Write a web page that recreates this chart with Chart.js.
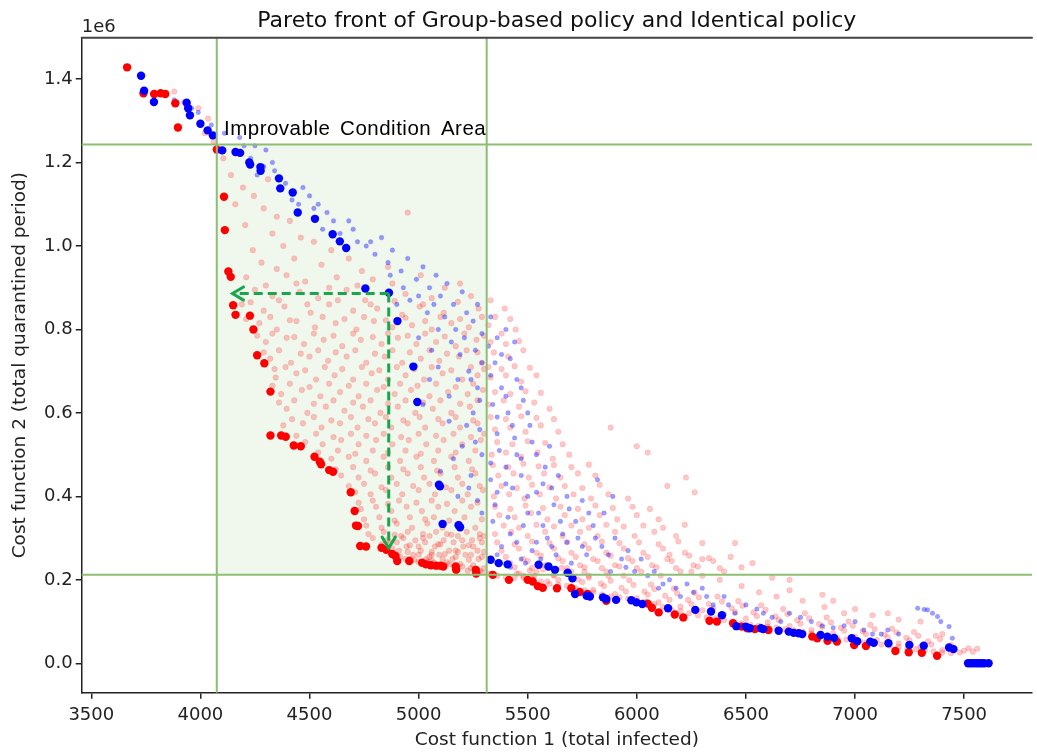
<!DOCTYPE html>
<html><head><meta charset="utf-8">
<script src="https://cdn.jsdelivr.net/npm/chart.js@4/dist/chart.umd.min.js"></script>
<style>html,body{margin:0;padding:0;background:#fff;}#c{display:block;}</style>
</head><body>
<canvas id="c" width="1037" height="753"></canvas>
<script>
// ---------- texts ----------
const TITLE = 'Pareto front of Group-based policy and Identical policy';
const X_LABEL = 'Cost function 1 (total infected)';
const Y_LABEL = 'Cost function 2 (total quarantined period)';
const AREA_LABEL = 'Improvable Condition Area';
const Y_OFFSET_TEXT = '1e6';

// ---------- axes ----------
const X_TICKS = [3500, 4000, 4500, 5000, 5500, 6000, 6500, 7000, 7500];
const Y_TICKS = [0.0, 0.2, 0.4, 0.6, 0.8, 1.0, 1.2, 1.4];   // x 1e6
const X_LIMITS = [3456, 7811];
const Y_LIMITS = [-0.0704, 1.499];                          // x 1e6
const Y_SCALE = 1e6;

// ---------- improvable area & arrows ----------
const AREA_X = [4075, 5312];
const AREA_Y = [0.2125, 1.243];          // x 1e6
const ARROW_START = [4863, 0.886];       // x, y(1e6)
const ARROW_LEFT_END_X = 4147;
const ARROW_DOWN_END_Y = 0.276;
const AREA_LABEL_POS = [4108, 1.265];

// ---------- data: [total infected, total quarantined (1e6)] ----------
const redFront = [[3664,1.428],[3739,1.366],[3788,1.364],[3818,1.366],[3839,1.364],[3885,1.342],[3897,1.284],[4075,1.231],
[4108,1.118],[4112,1.038],[4128,0.939],[4139,0.926],[4150,0.858],[4161,0.835],[4227,0.833],[4243,0.800],[4260,0.738],[4293,0.719],
[4321,0.651],[4321,0.546],[4370,0.546],[4391,0.543],[4428,0.522],[4460,0.520],[4523,0.495],[4547,0.483],[4553,0.477],[4590,0.463],
[4608,0.459],[4689,0.410],[4707,0.365],[4713,0.330],[4722,0.329],[4732,0.281],[4759,0.280],[4830,0.277],[4852,0.272],[4879,0.262],
[4894,0.257],[4902,0.245],[4957,0.245],[5016,0.241],[5034,0.237],[5056,0.235],[5080,0.234],[5100,0.234],[5113,0.232],[5170,0.232],
[5172,0.224],[5262,0.224],[5264,0.215],[5340,0.212],[5414,0.200],[5500,0.200],[5523,0.196],[5546,0.185],[5569,0.181],[5634,0.180],
[5700,0.180],[5738,0.171],[5774,0.166],[5860,0.150],[6050,0.143],[6069,0.133],[6100,0.122],[6174,0.117],[6213,0.110],[6333,0.102],
[6367,0.100],[6441,0.096],[6480,0.088],[6506,0.084],[6541,0.082],[6603,0.080],[6804,0.064],[6827,0.060],[6874,0.054],[6917,0.052],
[6996,0.044],[7050,0.0415],[7185,0.0295],[7246,0.0264],[7306,0.0254],[7376,0.018]];

const blueFront = [[3728,1.408],[3742,1.372],[3787,1.345],[3937,1.343],[3944,1.330],[3952,1.313],[4000,1.293],[4033,1.277],[4057,1.265],
[4100,1.229],[4161,1.225],[4182,1.223],[4224,1.200],[4228,1.195],[4275,1.189],[4276,1.180],[4360,1.162],[4366,1.138],[4423,1.128],
[4446,1.080],[4525,1.065],[4606,1.028],[4639,1.011],[4668,0.995],[4756,0.898],[4864,0.888],[4903,0.820],[4976,0.711],[4994,0.626],
[5093,0.428],[5098,0.424],[5110,0.334],[5183,0.331],[5190,0.326],[5330,0.248],[5367,0.240],[5408,0.237],[5550,0.236],[5595,0.232],
[5625,0.224],[5683,0.217],[5705,0.204],[5717,0.166],[5770,0.162],[5785,0.160],[5845,0.158],[5860,0.154],[5905,0.152],[5975,0.151],
[5998,0.146],[6025,0.142],[6143,0.132],[6268,0.128],[6340,0.124],[6390,0.115],[6456,0.089],[6499,0.088],[6518,0.084],[6569,0.084],
[6580,0.082],[6650,0.078],[6696,0.076],[6719,0.073],[6742,0.072],[6758,0.070],[6842,0.068],[6873,0.064],[6904,0.061],[6985,0.060],
[7010,0.053],[7070,0.052],[7086,0.049],[7153,0.048],[7249,0.044],[7315,0.042],[7431,0.038],[7451,0.034],[7518,0.0],[7530,0.0],
[7543,0.0],[7556,0.0],[7568,0.0],[7580,0.0],[7592,0.0],[7612,0.0]];

const redCloud = [[3880,1.37],[3925,1.345],[3990,1.33],[4035,1.305],[4020,1.27],[4060,1.25],
[4105,1.21],[4140,1.17],[4195,1.14],[4160,1.10],[4245,1.12],[4310,1.16],[4290,1.09],[4350,1.07],[4205,1.05],[4330,1.03],[4410,1.06],
[4460,1.02],[4240,0.99],[4380,1.00],[4520,1.01],[4600,0.99],[4430,0.97],[4280,0.96],[4680,0.97],[4555,0.955],[4740,0.94],[4950,1.08],
[4860,0.95],[4350,0.945],
[4210,0.925],[4395,0.93],[4480,0.915],[4625,0.925],[4790,0.92],[5010,0.93],[5190,0.91],
[4250,0.895],[4330,0.88],[4455,0.89],[4540,0.875],[4670,0.895],[4755,0.87],[4940,0.885],[5060,0.875],[5240,0.88],
[4190,0.86],[4290,0.845],[4385,0.855],[4505,0.84],[4590,0.86],[4700,0.845],[4810,0.85],[4925,0.835],[5005,0.855],[5115,0.84],[5275,0.85],
[4270,0.815],[4350,0.80],[4440,0.82],[4525,0.805],[4620,0.815],[4715,0.80],[4795,0.82],[4880,0.805],[4970,0.81],[5060,0.80],[5150,0.815],[5230,0.805],
[4300,0.77],[4395,0.78],[4475,0.765],[4565,0.775],[4650,0.76],[4735,0.775],[4830,0.765],[4905,0.78],[4990,0.765],[5080,0.77],[5170,0.76],[5265,0.775],
[4320,0.73],[4415,0.72],[4500,0.735],[4585,0.725],[4670,0.735],[4760,0.72],[4845,0.735],[4925,0.72],[5010,0.73],[5095,0.725],[5185,0.735],[5290,0.72],
[4345,0.685],[4440,0.695],[4530,0.68],[4615,0.69],[4700,0.68],[4785,0.695],[4860,0.68],[4940,0.69],[5025,0.68],[5110,0.695],[5200,0.68],[5270,0.69],
[4370,0.645],[4465,0.655],[4550,0.64],[4640,0.65],[4725,0.64],[4810,0.655],[4890,0.645],[4965,0.655],[5050,0.64],[5135,0.65],[5225,0.645],[5295,0.655],
[4395,0.61],[4490,0.60],[4575,0.615],[4660,0.605],[4745,0.615],[4825,0.60],[4905,0.615],[4985,0.60],[5065,0.61],[5150,0.60],[5235,0.615],
[4380,0.57],[4470,0.575],[4555,0.565],[4640,0.575],[4720,0.565],[4800,0.575],[4875,0.565],[4950,0.575],[5030,0.565],[5110,0.575],[5190,0.565],[5270,0.575],
[4480,0.53],[4560,0.525],[4645,0.535],[4725,0.525],[4805,0.535],[4880,0.525],[4955,0.535],[5035,0.525],[5115,0.535],[5200,0.525],[5285,0.535],
[4600,0.49],[4680,0.495],[4760,0.485],[4840,0.495],[4915,0.485],[4990,0.495],[5070,0.485],[5150,0.495],[5230,0.485],
[4645,0.45],[4725,0.445],[4800,0.455],[4875,0.445],[4950,0.455],[5025,0.445],[5100,0.455],[5180,0.445],[5260,0.455],
[4710,0.41],[4780,0.405],[4850,0.415],[4925,0.405],[5000,0.415],[5075,0.405],[5150,0.415],[5225,0.405],[5295,0.415],
[4735,0.37],[4805,0.375],[4875,0.365],[4945,0.375],[5015,0.365],[5090,0.375],[5165,0.365],[5240,0.375],
[4760,0.33],[4830,0.325],[4900,0.335],[4970,0.325],[5040,0.335],[5110,0.325],[5185,0.335],[5260,0.325],
[4790,0.30],[4855,0.295],[4920,0.305],[4985,0.295],[5050,0.305],[5115,0.295],[5180,0.305],[5245,0.295],[5300,0.305],
[4880,0.275],[4945,0.28],[5010,0.27],[5075,0.28],[5140,0.27],[5205,0.28],[5270,0.27],
[4915,0.255],[4975,0.26],[5035,0.25],[5095,0.26],[5155,0.25],[5215,0.26],[5275,0.25],
[5000,0.243],[5060,0.247],[5130,0.242],[5190,0.238],[5250,0.235],[5300,0.228],[5225,0.222],[5290,0.218],
[4300,0.905],[4440,0.91],[4590,0.9],[4720,0.905],[4880,0.91],[5120,0.9],
[4230,0.865],[4360,0.87],[4490,0.86],[4630,0.87],[4780,0.86],[4890,0.868],[5020,0.86],[5180,0.866],
[4210,0.825],[4320,0.83],[4410,0.822],[4560,0.83],[4660,0.825],[4750,0.83],[4850,0.822],[4940,0.828],[5030,0.82],[5100,0.83],[5190,0.825],[5290,0.83],
[4260,0.785],[4330,0.79],[4430,0.782],[4520,0.79],[4610,0.785],[4700,0.79],[4790,0.782],[4860,0.79],[4950,0.785],[5030,0.79],[5120,0.783],[5210,0.79],[5300,0.785],
[4290,0.745],[4360,0.75],[4460,0.742],[4540,0.75],[4620,0.745],[4710,0.75],[4800,0.742],[4880,0.75],[4960,0.745],[5050,0.75],[5130,0.742],[5220,0.75],[5270,0.745],
[4340,0.705],[4390,0.71],[4480,0.702],[4570,0.71],[4650,0.705],[4740,0.71],[4820,0.702],[4900,0.71],[4980,0.705],[5060,0.71],[5150,0.702],[5240,0.71],[5300,0.705],
[4330,0.665],[4410,0.67],[4500,0.662],[4590,0.67],[4680,0.665],[4760,0.67],[4840,0.662],[4915,0.67],[4995,0.665],[5080,0.67],[5170,0.662],[5250,0.67],
[4360,0.625],[4430,0.63],[4520,0.622],[4610,0.63],[4700,0.625],[4780,0.63],[4860,0.622],[4940,0.63],[5020,0.625],[5100,0.63],[5190,0.622],[5270,0.63],
[4420,0.585],[4520,0.59],[4600,0.582],[4690,0.59],[4770,0.585],[4850,0.59],[4930,0.582],[5005,0.59],[5090,0.585],[5170,0.59],[5250,0.582],
[4440,0.545],[4530,0.55],[4610,0.542],[4690,0.55],[4760,0.545],[4840,0.55],[4920,0.542],[5000,0.55],[5080,0.545],[5160,0.55],[5240,0.542],[5300,0.55],
[4540,0.505],[4630,0.51],[4710,0.502],[4790,0.51],[4860,0.505],[4940,0.51],[5010,0.502],[5090,0.51],[5170,0.505],[5260,0.51],
[4620,0.465],[4700,0.47],[4780,0.462],[4860,0.47],[4930,0.465],[5010,0.47],[5085,0.462],[5165,0.47],[5245,0.465],
[4680,0.425],[4750,0.43],[4830,0.422],[4900,0.43],[4975,0.425],[5050,0.43],[5125,0.422],[5200,0.43],[5280,0.425],
[4725,0.385],[4790,0.39],[4860,0.382],[4910,0.39],[4990,0.385],[5060,0.39],[5130,0.382],[5200,0.39],[5270,0.385],
[4750,0.345],[4820,0.35],[4890,0.342],[4960,0.35],[5030,0.345],[5070,0.35],[5140,0.342],[5210,0.35],[5290,0.345],
[4770,0.31],[4840,0.315],[4890,0.308],[4950,0.315],[5020,0.31],[5080,0.315],[5150,0.308],[5220,0.315],[5280,0.31],
[4830,0.285],[4900,0.29],[4960,0.283],[5030,0.29],[5090,0.285],[5160,0.29],[5230,0.283],[5290,0.29],
[4890,0.262],[4950,0.267],[5000,0.26],[5060,0.267],[5120,0.262],[5180,0.267],[5240,0.26],[5300,0.267],
[4960,0.25],[5050,0.255],[5110,0.25],[5170,0.255],[5230,0.248],[5290,0.255],
[5330,0.87],[5395,0.85],[5320,0.81],[5380,0.79],[5445,0.80],[5345,0.745],[5410,0.735],[5480,0.75],[5330,0.685],[5400,0.69],[5470,0.675],
[5540,0.69],[5320,0.62],[5390,0.63],[5460,0.615],[5530,0.625],[5600,0.61],[5350,0.56],[5420,0.565],[5490,0.555],[5560,0.57],[5640,0.555],
[5880,0.565],[5335,0.50],[5400,0.505],[5470,0.495],[5545,0.505],[5615,0.49],[5690,0.50],[6000,0.52],[6050,0.505],[5365,0.45],[5435,0.455],
[5505,0.445],[5575,0.455],[5650,0.445],[5730,0.455],[5810,0.45],[6225,0.445],[5345,0.40],[5415,0.405],[5485,0.395],[5555,0.405],[5630,0.395],
[5710,0.405],[5790,0.395],[5870,0.405],[5960,0.395],[6265,0.41],[5370,0.355],[5440,0.35],[5515,0.36],[5590,0.345],[5670,0.355],[5750,0.345],
[5830,0.355],[5910,0.345],[6000,0.355],[6100,0.345],[5350,0.31],[5425,0.315],[5500,0.305],[5580,0.315],[5660,0.305],[5740,0.315],[5820,0.305],
[5900,0.315],[5990,0.305],[6080,0.315],[6180,0.305],[5380,0.27],[5460,0.275],[5540,0.265],[5620,0.275],[5700,0.265],[5780,0.275],[5860,0.265],
[5940,0.275],[6030,0.265],[6120,0.275],[6220,0.265],[6450,0.288],[5420,0.24],[5500,0.245],[5580,0.235],[5660,0.245],[5740,0.235],[5820,0.245],
[5900,0.235],[5980,0.245],[6070,0.235],[6160,0.245],[6260,0.235],[6350,0.245],[5460,0.215],[5540,0.22],[5620,0.21],[5700,0.22],[5780,0.21],
[5860,0.22],[5940,0.21],[6020,0.22],[6110,0.21],[6200,0.22],[6300,0.21],[6400,0.22],[6530,0.24],[6620,0.205],[6700,0.175],[6850,0.164],
[6900,0.15],[7000,0.13],[7150,0.12],[7300,0.10],[7560,0.035],
[5350,0.83],[5420,0.825],[5330,0.77],[5400,0.765],[5460,0.772],[5320,0.71],[5380,0.705],[5440,0.712],[5510,0.708],
[5350,0.65],[5420,0.645],[5490,0.652],[5560,0.648],[5330,0.59],[5400,0.585],[5470,0.592],[5540,0.588],[5620,0.585],
[5360,0.53],[5430,0.525],[5500,0.532],[5580,0.528],[5660,0.525],[5340,0.475],[5410,0.47],[5480,0.478],[5550,0.472],[5620,0.475],[5700,0.47],[5780,0.476],
[5380,0.425],[5450,0.42],[5520,0.428],[5600,0.422],[5670,0.425],[5750,0.42],[5830,0.428],[6140,0.425],
[5350,0.375],[5420,0.37],[5490,0.378],[5570,0.372],[5650,0.375],[5730,0.37],[5810,0.378],[5890,0.372],[5980,0.375],[6060,0.37],
[5390,0.33],[5460,0.325],[5540,0.332],[5620,0.328],[5700,0.33],[5780,0.325],[5860,0.332],[5940,0.328],[6030,0.33],[6120,0.325],[6220,0.332],
[5360,0.29],[5440,0.285],[5520,0.292],[5600,0.288],[5680,0.29],[5760,0.285],[5840,0.292],[5920,0.288],[6010,0.29],[6100,0.285],[6190,0.292],[6300,0.288],
[5400,0.255],[5480,0.25],[5560,0.258],[5640,0.252],[5720,0.255],[5800,0.25],[5880,0.258],[5960,0.252],[6050,0.255],[6140,0.25],[6240,0.258],[6330,0.252],[6430,0.255],
[5440,0.23],[5520,0.228],[5600,0.232],[5680,0.228],[5760,0.23],[5840,0.228],[5920,0.232],[6000,0.228],[6090,0.23],[6180,0.228],[6280,0.232],[6380,0.228],[6480,0.23],
[5480,0.205],[5510,0.222],[5545,0.236],[5590,0.196],[5620,0.212],[5655,0.229],[5700,0.186],[5730,0.201],[5760,0.219],[5800,0.176],[5835,0.191],
[5870,0.209],[5900,0.166],[5930,0.181],[5965,0.199],[6000,0.156],[6035,0.172],[6065,0.189],[6100,0.146],[6130,0.162],[6170,0.179],[6200,0.136],
[6235,0.152],[6265,0.169],[6300,0.127],[6330,0.142],[6370,0.16],[6400,0.117],[6435,0.132],[6465,0.149],[6500,0.107],[6535,0.122],[6570,0.139],
[6600,0.098],[6635,0.112],[6670,0.13],[6700,0.089],[6735,0.103],[6770,0.12],[6800,0.08],[6835,0.094],[6870,0.11],[6900,0.072],[6935,0.085],
[6970,0.1],[7000,0.064],[7035,0.077],[7070,0.092],[7100,0.056],[7135,0.069],[7170,0.083],[7200,0.048],[7235,0.061],[7270,0.075],[7300,0.04],
[7335,0.053],[7370,0.066],[7400,0.032],[7440,0.044],[7480,0.026],[7520,0.036],
[5450,0.215],[5530,0.21],[5570,0.225],[5640,0.2],[5680,0.215],[5750,0.195],[5780,0.205],[5850,0.185],[5880,0.198],[5950,0.172],[5985,0.188],
[6050,0.165],[6080,0.178],[6150,0.152],[6185,0.168],[6250,0.142],[6285,0.158],[6350,0.132],[6390,0.148],[6450,0.123],[6485,0.138],[6550,0.113],
[6590,0.128],[6650,0.104],[6690,0.118],[6750,0.095],[6790,0.108],[6850,0.087],[6890,0.098],[6950,0.078],[6990,0.09],[7050,0.07],[7090,0.082],
[7150,0.062],[7190,0.074],[7250,0.055],[7290,0.066],[7350,0.045],[7390,0.058],[7450,0.038],[7500,0.03],[7540,0.028],
[6150,0.26],[6250,0.22],[6380,0.2],[6480,0.185],[6560,0.17],[6640,0.16],[6760,0.15],[6950,0.12],[7080,0.115],[7200,0.105],[7400,0.07],
[6300,0.25],[6700,0.2],[6860,0.135],
[4900,0.252],[4940,0.25],[4980,0.248],[5040,0.244],[5070,0.241],[5140,0.238],[5200,0.232],[5240,0.228],[5280,0.222],[5320,0.215],[5360,0.21],
[5400,0.206],[5440,0.205],[5480,0.21],[5520,0.204],[5560,0.196],[5600,0.19],[5640,0.188],[5680,0.186],[5720,0.18],[5760,0.175],[5800,0.17],
[5840,0.165],[5880,0.16],[5920,0.158],[5960,0.155],[6000,0.15],[6040,0.148],[6080,0.142],[6120,0.135],[6160,0.128],[6200,0.125],[6240,0.12],
[6280,0.115],[6320,0.11],[6360,0.108],[6400,0.104],[6440,0.1],[6480,0.096],[6520,0.092],[6560,0.09],[6600,0.088],[6640,0.085],[6680,0.082],
[6720,0.079],[6760,0.076],[6800,0.072],[6840,0.068],[6880,0.064],[6920,0.06],[6960,0.057],[7000,0.053],[7040,0.05],[7080,0.048],[7120,0.045],
[7160,0.042],[7200,0.039],[7240,0.036],[7280,0.034],[7320,0.031],[7360,0.028],[7400,0.026],[7440,0.024],
[4870,0.29],[4910,0.27],[4930,0.3],[5000,0.28],[5020,0.3],[5060,0.26],[5100,0.285],[5130,0.31],[5170,0.27],[5200,0.295],[5250,0.28],[5280,0.3]];

const blueCloud = [[3880,1.35],[3960,1.33],[3990,1.32],[4050,1.29],[4110,1.27],[4180,1.26],[4250,1.24],[4300,1.23],
[4230,1.21],[4290,1.19],[4260,1.17],[4340,1.18],[4390,1.15],[4420,1.11],[4450,1.10],[4500,1.12],[4520,1.09],[4580,1.08],[4610,1.06],
[4560,1.04],[4640,1.03],[4700,1.04],[4720,1.01],[4760,1.0],[4800,0.98],[4830,1.02],[4860,0.96],[4880,0.99],[4920,0.94],[4950,0.97],
[4990,0.92],[5020,0.95],[5050,0.90],[5080,0.93],[5100,0.88],[5130,0.91],[5160,0.86],[5200,0.89],[5220,0.84],[5250,0.82],[5270,0.86],
[5290,0.79],[4960,0.87],[5040,0.84],[5090,0.80],[5150,0.77],[5190,0.74],[5230,0.70],[5270,0.66],[5290,0.72],[5180,0.68],[5250,0.60],
[5280,0.56],[5140,0.58],[5200,0.52],[5100,0.46],[5180,0.40],[5240,0.45],[5020,0.62],[5050,0.68],[5290,0.50],[5290,0.36],
[4870,0.93],[4930,0.90],[5000,0.88],[5070,0.86],[5120,0.83],[5170,0.80],[5210,0.78],[5260,0.75],[5240,0.68],[5280,0.63],[5220,0.57],
[5260,0.53],[5160,0.49],[5230,0.42],[5270,0.39],[5140,0.64],[5090,0.71],[5000,0.78],[5060,0.75],[4900,0.86],[4780,1.01],[4680,1.06],
[4540,1.10],[4470,1.14],[4330,1.20],[4200,1.24],
[5330,0.83],[5360,0.78],[5400,0.80],[5350,0.72],[5420,0.73],[5380,0.66],[5450,0.68],[5340,0.62],[5410,0.60],[5480,0.63],[5360,0.55],
[5440,0.54],[5510,0.57],[5330,0.48],[5400,0.47],[5470,0.49],[5540,0.50],[5600,0.52],[5360,0.41],[5430,0.42],[5500,0.40],[5570,0.43],
[5640,0.45],[5340,0.34],[5410,0.35],[5480,0.33],[5550,0.36],[5620,0.38],[5690,0.37],[5750,0.39],[5380,0.28],[5450,0.29],[5520,0.27],
[5590,0.30],[5660,0.31],[5730,0.30],[5800,0.33],[5850,0.36],[5420,0.23],[5490,0.24],[5560,0.25],[5630,0.26],[5700,0.24],[5770,0.26],
[5840,0.28],[5900,0.30],[5960,0.27],[5820,0.44],[5890,0.40],[5880,0.22],[5950,0.23],[6020,0.25],[6080,0.22],[6150,0.20],[6230,0.19],
[6300,0.18],[6100,0.18],[6200,0.16],[6350,0.14],[6400,0.16],[6450,0.12],[6550,0.13],[6620,0.11],[6700,0.12],[6800,0.10],[6900,0.085],
[7000,0.10],[7080,0.07],[7150,0.08],[7287,0.132],[7317,0.129],[7332,0.128],[7355,0.12],[7378,0.112],[7393,0.10],[7431,0.088],[7446,0.06],
[5320,0.76],[5380,0.74],[5440,0.77],[5330,0.69],[5400,0.64],[5470,0.66],[5360,0.59],[5430,0.57],[5500,0.60],[5370,0.51],[5450,0.50],
[5520,0.53],[5580,0.47],[5330,0.44],[5400,0.43],[5470,0.45],[5540,0.41],[5610,0.42],[5680,0.40],[5350,0.38],[5420,0.31],[5500,0.36],
[5570,0.33],[5650,0.34],[5720,0.34],[5780,0.36],[5360,0.26],[5470,0.25],[5540,0.29],[5610,0.28],[5680,0.29],[5750,0.28],[5810,0.30],
[5870,0.26],[5930,0.25],[5990,0.22],[6050,0.21],[6120,0.19],[6180,0.18],[6260,0.17],[6320,0.16],[6420,0.14],[6500,0.14],[6580,0.12],
[6660,0.10],[6750,0.11],[6850,0.09],[6950,0.09],[7040,0.08],[7120,0.07],[7200,0.07]];

const toPts = arr => arr.map(p => ({x: p[0], y: p[1] * Y_SCALE}));

const GREEN_LINE = '#8cbf72';
const GREEN_FILL = 'rgba(140,191,114,0.13)';
const ARROW_COLOR = '#1ca64c';
const FONT = "'DejaVu Sans', sans-serif";

const decor = {
  id: 'decor',
  beforeDatasetsDraw(chart) {
    const {ctx, scales: {x, y}} = chart;
    const x0 = x.getPixelForValue(AREA_X[0]), x1 = x.getPixelForValue(AREA_X[1]);
    const y0 = y.getPixelForValue(AREA_Y[1] * Y_SCALE), y1 = y.getPixelForValue(AREA_Y[0] * Y_SCALE);
    ctx.save();
    ctx.fillStyle = GREEN_FILL;
    ctx.fillRect(x0, y0, x1 - x0, y1 - y0);
    ctx.restore();
  },
  afterDatasetsDraw(chart) {
    const {ctx, chartArea: a, scales: {x, y}} = chart;
    ctx.save();
    ctx.strokeStyle = GREEN_LINE; ctx.lineWidth = 2;
    AREA_X.forEach(v => { const px = x.getPixelForValue(v); ctx.beginPath(); ctx.moveTo(px, a.top); ctx.lineTo(px, a.bottom); ctx.stroke(); });
    AREA_Y.forEach(v => { const py = y.getPixelForValue(v * Y_SCALE); ctx.beginPath(); ctx.moveTo(a.left, py); ctx.lineTo(a.right, py); ctx.stroke(); });
    const sx = x.getPixelForValue(ARROW_START[0]), sy = y.getPixelForValue(ARROW_START[1] * Y_SCALE);
    const lx = x.getPixelForValue(ARROW_LEFT_END_X), dy = y.getPixelForValue(ARROW_DOWN_END_Y * Y_SCALE);
    ctx.strokeStyle = ARROW_COLOR; ctx.lineWidth = 3; ctx.setLineDash([9, 5]);
    ctx.beginPath(); ctx.moveTo(sx, sy); ctx.lineTo(lx + 2, sy); ctx.stroke();
    ctx.beginPath(); ctx.moveTo(sx, sy); ctx.lineTo(sx, dy - 2); ctx.stroke();
    ctx.setLineDash([]); ctx.lineWidth = 3; ctx.lineCap = 'round';
    const h = 11;
    ctx.beginPath(); ctx.moveTo(lx + h, sy - h * 0.6); ctx.lineTo(lx, sy); ctx.lineTo(lx + h, sy + h * 0.6); ctx.stroke();
    ctx.beginPath(); ctx.moveTo(sx - h * 0.6, dy - h); ctx.lineTo(sx, dy); ctx.lineTo(sx + h * 0.6, dy - h); ctx.stroke();
    ctx.fillStyle = '#000';
    ctx.font = "20.5px 'Liberation Sans', Arial, sans-serif";
    ctx.letterSpacing = '0.5px'; ctx.wordSpacing = '3.5px';
    ctx.textAlign = 'left'; ctx.textBaseline = 'alphabetic';
    ctx.fillText(AREA_LABEL, x.getPixelForValue(AREA_LABEL_POS[0]), y.getPixelForValue(AREA_LABEL_POS[1] * Y_SCALE));
    ctx.letterSpacing = '0px'; ctx.wordSpacing = '0px';
    ctx.strokeStyle = '#444'; ctx.lineWidth = 2;
    ctx.beginPath(); ctx.moveTo(a.left, a.top); ctx.lineTo(a.right, a.top); ctx.stroke();
    ctx.fillStyle = '#111'; ctx.textAlign = 'center';
    ctx.font = "22px " + FONT;
    ctx.fillText(TITLE, (a.left + a.right) / 2, 27);
    ctx.textAlign = 'left'; ctx.font = "18px " + FONT; ctx.fillStyle = '#222';
    ctx.fillText(Y_OFFSET_TEXT, a.left, 32);
    ctx.restore();
  }
};

new Chart(document.getElementById('c'), {
  type: 'scatter',
  data: {
    datasets: [
      {label: 'Group-based front', data: toPts(blueFront), backgroundColor: '#0000ff', borderWidth: 0, pointRadius: 4.2},
      {label: 'Identical front', data: toPts(redFront), backgroundColor: '#ff0000', borderWidth: 0, pointRadius: 4.2},
      {label: 'Group-based samples', data: toPts(blueCloud), backgroundColor: 'rgba(0,0,255,0.38)', borderColor: 'rgba(0,0,255,0.14)', borderWidth: 1, pointRadius: 2.3},
      {label: 'Identical samples', data: toPts(redCloud), backgroundColor: 'rgba(255,0,0,0.22)', borderColor: 'rgba(255,0,0,0.1)', borderWidth: 1, pointRadius: 2.8}
    ]
  },
  options: {
    responsive: false, animation: false, devicePixelRatio: 1,
    layout: {padding: {left: 0, right: 0, top: 37.7, bottom: 0}},
    plugins: {legend: {display: false}, tooltip: {enabled: false}, title: {display: false}},
    scales: {
      x: {
        type: 'linear', min: X_LIMITS[0], max: X_LIMITS[1],
        afterBuildTicks: s => { s.ticks = X_TICKS.map(v => ({value: v})); },
        afterFit: s => { s.height = 60.3; },
        ticks: {font: {family: FONT, size: 18}, color: '#222', padding: 6, maxRotation: 0, autoSkip: false, callback: v => String(v)},
        grid: {drawOnChartArea: false, drawTicks: true, tickLength: 6, color: '#222', lineWidth: 1.5},
        border: {display: true, color: '#222', width: 1.5},
        title: {display: true, text: X_LABEL, font: {family: FONT, size: 18.5}, color: '#222', padding: {top: 0, bottom: 1.5}}
      },
      y: {
        type: 'linear', min: Y_LIMITS[0] * Y_SCALE, max: Y_LIMITS[1] * Y_SCALE,
        afterBuildTicks: s => { s.ticks = Y_TICKS.map(v => ({value: v * Y_SCALE})); },
        afterFit: s => { s.width = 81.7; },
        ticks: {font: {family: FONT, size: 18}, color: '#222', padding: 3, autoSkip: false, callback: v => (v / Y_SCALE).toFixed(1)},
        grid: {drawOnChartArea: false, drawTicks: true, tickLength: 6, color: '#222', lineWidth: 1.5},
        border: {display: true, color: '#222', width: 1.5},
        title: {display: true, text: Y_LABEL, font: {family: FONT, size: 18.5}, color: '#222', padding: {top: 9, bottom: 0}}
      }
    }
  },
  plugins: [decor]
});
</script>
</body></html>
